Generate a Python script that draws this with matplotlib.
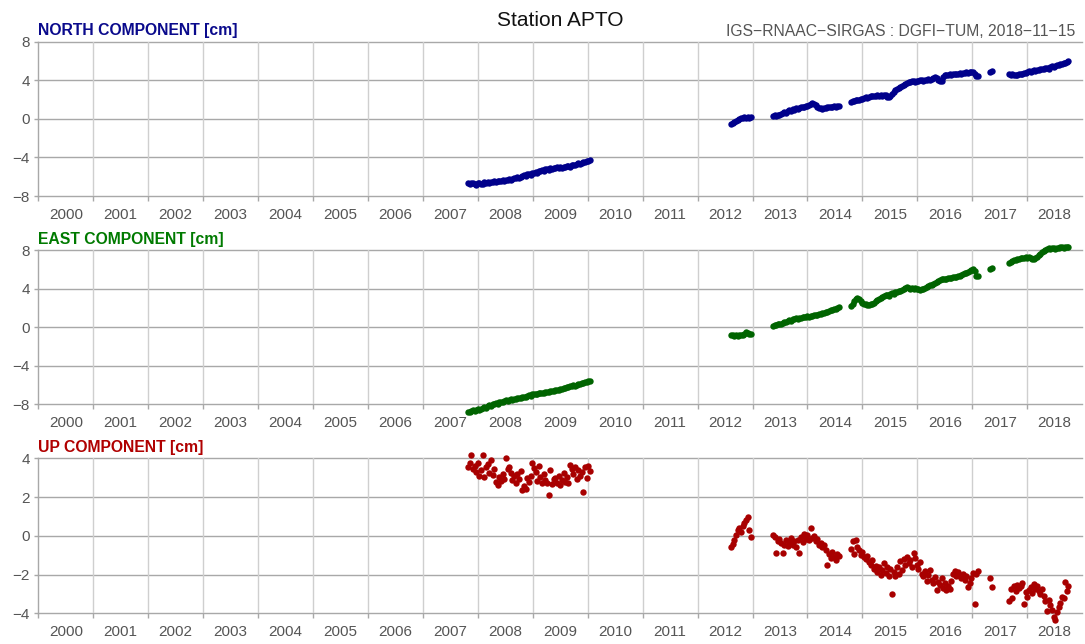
import matplotlib

matplotlib.use("Agg")
import matplotlib.pyplot as plt
from matplotlib.ticker import FixedLocator, FixedFormatter, NullFormatter

plt.rcParams["font.family"] = ["Liberation Sans", "DejaVu Sans"]

# weekly-ish solution epochs (decimal year), shared by the three components
epoch = [
    # 2007.82 - 2010.04
    2007.82, 2007.85, 2007.88, 2007.91, 2007.94, 2007.97, 2008.00, 2008.03, 2008.06, 2008.09,
    2008.12, 2008.15, 2008.18, 2008.21, 2008.24, 2008.27, 2008.30, 2008.33, 2008.36, 2008.39,
    2008.42, 2008.45, 2008.48, 2008.51, 2008.54, 2008.57, 2008.60, 2008.63, 2008.66, 2008.69,
    2008.72, 2008.75, 2008.78, 2008.81, 2008.84, 2008.87, 2008.90, 2008.93, 2008.96, 2008.99,
    2009.02, 2009.05, 2009.08, 2009.11, 2009.14, 2009.17, 2009.20, 2009.23, 2009.26, 2009.29,
    2009.32, 2009.35, 2009.38, 2009.41, 2009.44, 2009.47, 2009.50, 2009.53, 2009.56, 2009.59,
    2009.62, 2009.65, 2009.68, 2009.71, 2009.74, 2009.77, 2009.80, 2009.83, 2009.86, 2009.89,
    2009.92, 2009.95, 2009.98, 2010.01, 2010.04,
    # 2012.61 - 2012.97
    2012.61, 2012.64, 2012.67, 2012.70, 2012.73, 2012.76, 2012.79, 2012.82, 2012.85, 2012.88,
    2012.91, 2012.94, 2012.97,
    # 2013.37 - 2014.57
    2013.37, 2013.40, 2013.43, 2013.46, 2013.49, 2013.52, 2013.55, 2013.58, 2013.61, 2013.64,
    2013.67, 2013.70, 2013.73, 2013.76, 2013.79, 2013.82, 2013.85, 2013.88, 2013.91, 2013.94,
    2013.97, 2014.00, 2014.03, 2014.06, 2014.09, 2014.12, 2014.15, 2014.18, 2014.21, 2014.24,
    2014.27, 2014.30, 2014.33, 2014.36, 2014.39, 2014.42, 2014.45, 2014.48, 2014.51, 2014.54,
    2014.57,
    # 2014.79 - 2017.10
    2014.79, 2014.82, 2014.85, 2014.88, 2014.91, 2014.94, 2014.97, 2015.00, 2015.03, 2015.06,
    2015.09, 2015.12, 2015.15, 2015.18, 2015.21, 2015.24, 2015.27, 2015.30, 2015.33, 2015.36,
    2015.39, 2015.42, 2015.45, 2015.48, 2015.51, 2015.54, 2015.57, 2015.60, 2015.63, 2015.66,
    2015.69, 2015.72, 2015.75, 2015.78, 2015.81, 2015.84, 2015.87, 2015.90, 2015.93, 2015.96,
    2015.99, 2016.02, 2016.05, 2016.08, 2016.11, 2016.14, 2016.17, 2016.20, 2016.23, 2016.26,
    2016.29, 2016.32, 2016.35, 2016.38, 2016.41, 2016.44, 2016.47, 2016.50, 2016.53, 2016.56,
    2016.59, 2016.62, 2016.65, 2016.68, 2016.71, 2016.74, 2016.77, 2016.80, 2016.83, 2016.86,
    2016.89, 2016.92, 2016.95, 2016.98, 2017.01, 2017.04, 2017.07, 2017.10,
    # isolated
    2017.33, 2017.36,
    # 2017.67 - 2018.75
    2017.67, 2017.70, 2017.73, 2017.76, 2017.79, 2017.82, 2017.85, 2017.88, 2017.91, 2017.94,
    2017.97, 2018.00, 2018.03, 2018.06, 2018.09, 2018.12, 2018.15, 2018.18, 2018.21, 2018.24,
    2018.27, 2018.30, 2018.33, 2018.36, 2018.39, 2018.42, 2018.45, 2018.48, 2018.51, 2018.54,
    2018.57, 2018.60, 2018.63, 2018.66, 2018.69, 2018.72, 2018.75,
]

north = [
    -6.65, -6.78, -6.70, -6.62, -6.75, -6.82, -6.70, -6.66, -6.80, -6.72,
    -6.60, -6.68, -6.55, -6.62, -6.50, -6.58, -6.45, -6.52, -6.40, -6.47,
    -6.42, -6.35, -6.44, -6.30, -6.38, -6.25, -6.32, -6.20, -6.12, -6.18,
    -6.05, -6.10, -5.98, -5.92, -5.85, -5.90, -5.75, -5.70, -5.78, -5.62,
    -5.58, -5.50, -5.62, -5.40, -5.45, -5.32, -5.38, -5.25, -5.20, -5.28,
    -5.10, -5.18, -5.05, -5.12, -5.00, -5.08, -4.98, -5.05, -4.95, -5.02,
    -4.92, -4.85, -4.95, -4.80, -4.75, -4.82, -4.68, -4.62, -4.70, -4.55,
    -4.50, -4.45, -4.38, -4.32, -4.28,
    -0.50, -0.40, -0.32, -0.25, -0.15, -0.05, 0.05, 0.10, 0.15, 0.05,
    0.20, 0.12, 0.18,
    0.25, 0.35, 0.30, 0.45, 0.40, 0.55, 0.60, 0.70, 0.65, 0.80,
    0.90, 0.85, 1.00, 0.95, 1.10, 1.05, 1.15, 1.20, 1.25, 1.18,
    1.30, 1.35, 1.45, 1.55, 1.65, 1.58, 1.40, 1.25, 1.15, 1.10,
    1.05, 1.15, 1.10, 1.20, 1.25, 1.18, 1.22, 1.30, 1.25, 1.35,
    1.38,
    1.78, 1.85, 1.80, 1.92, 1.98, 1.95, 2.05, 2.10, 2.15, 2.22,
    2.20, 2.28, 2.32, 2.35, 2.42, 2.38, 2.45, 2.40, 2.48, 2.42,
    2.50, 2.45, 2.30, 2.25, 2.40, 2.55, 2.75, 2.95, 3.05, 3.20,
    3.30, 3.42, 3.55, 3.62, 3.70, 3.78, 3.82, 3.88, 3.92, 3.85,
    3.95, 3.90, 3.98, 4.00, 3.92, 4.05, 4.02, 4.10, 4.05, 4.12,
    4.25, 4.32, 4.20, 4.05, 3.90, 3.95, 4.30, 4.50, 4.55, 4.52,
    4.60, 4.58, 4.65, 4.62, 4.70, 4.68, 4.72, 4.65, 4.75, 4.78,
    4.82, 4.75, 4.85, 4.90, 4.88, 4.60, 4.45, 4.42,
    4.88, 4.92,
    4.62, 4.55, 4.68, 4.50, 4.58, 4.52, 4.60, 4.65, 4.70, 4.75,
    4.80, 4.85, 4.92, 4.88, 5.00, 5.05, 4.98, 5.10, 5.05, 5.15,
    5.20, 5.12, 5.25, 5.30, 5.22, 5.35, 5.45, 5.40, 5.50, 5.55,
    5.60, 5.65, 5.70, 5.75, 5.82, 5.88, 5.95,
]

east = [
    -8.85, -8.78, -8.70, -8.62, -8.68, -8.55, -8.50, -8.58, -8.45, -8.40,
    -8.30, -8.38, -8.20, -8.12, -8.18, -8.00, -7.95, -7.88, -7.92, -7.80,
    -7.72, -7.78, -7.65, -7.60, -7.68, -7.55, -7.50, -7.52, -7.45, -7.40,
    -7.38, -7.32, -7.35, -7.25, -7.20, -7.22, -7.12, -7.08, -7.10, -6.98,
    -6.95, -6.92, -6.98, -6.85, -6.88, -6.80, -6.78, -6.75, -6.70, -6.72,
    -6.62, -6.65, -6.58, -6.55, -6.50, -6.48, -6.42, -6.45, -6.35, -6.30,
    -6.25, -6.20, -6.15, -6.10, -6.05, -6.08, -5.98, -5.90, -5.85, -5.80,
    -5.75, -5.72, -5.65, -5.62, -5.58,
    -0.80, -0.85, -0.90, -0.82, -0.88, -0.85, -0.80, -0.78, -0.72, -0.55,
    -0.65, -0.70, -0.68,
    0.10, 0.18, 0.22, 0.28, 0.35, 0.30, 0.42, 0.50, 0.55, 0.62,
    0.72, 0.68, 0.80, 0.85, 0.92, 0.88, 1.00, 0.98, 1.05, 1.10,
    1.02, 1.12, 1.08, 1.18, 1.15, 1.22, 1.30, 1.25, 1.38, 1.35,
    1.42, 1.50, 1.55, 1.62, 1.70, 1.78, 1.75, 1.85, 1.92, 1.98,
    2.05,
    2.20, 2.45, 2.75, 2.95, 3.00, 2.92, 2.75, 2.55, 2.45, 2.40,
    2.32, 2.28, 2.35, 2.45, 2.55, 2.70, 2.78, 2.90, 3.05, 3.15,
    3.20, 3.30, 3.35, 3.28, 3.45, 3.50, 3.48, 3.60, 3.65, 3.72,
    3.80, 3.85, 3.92, 4.05, 4.12, 4.08, 4.00, 4.05, 3.95, 4.02,
    3.98, 3.92, 3.88, 3.95, 4.00, 4.05, 4.15, 4.25, 4.32, 4.40,
    4.50, 4.62, 4.70, 4.82, 4.90, 4.95, 4.98, 5.02, 5.00, 5.08,
    5.05, 5.12, 5.15, 5.20, 5.25, 5.30, 5.35, 5.42, 5.50, 5.58,
    5.65, 5.75, 5.85, 5.92, 5.98, 5.80, 5.35, 5.28,
    6.08, 6.14,
    6.65, 6.75, 6.85, 6.92, 7.00, 7.05, 7.10, 7.15, 7.20, 7.18,
    7.25, 7.22, 7.28, 7.20, 7.10, 7.05, 7.12, 7.30, 7.45, 7.60,
    7.75, 7.90, 8.05, 8.15, 8.25, 8.10, 8.18, 8.22, 8.15, 8.25,
    8.20, 8.28, 8.30, 8.25, 8.32, 8.35, 8.30,
]

up = [
    3.55, 3.75, 4.15, 3.45, 3.60, 3.30, 3.75, 3.10, 3.40, 4.15,
    3.05, 3.55, 3.70, 3.25, 3.90, 3.15, 3.45, 2.80, 2.60, 3.05,
    2.85, 3.20, 2.95, 4.00, 3.45, 3.55, 3.25, 2.90, 3.10, 2.75,
    3.20, 2.95, 3.35, 2.35, 2.55, 2.40, 3.00, 2.80, 3.10, 3.75,
    3.50, 3.30, 2.85, 3.60, 3.05, 2.70, 3.20, 2.90, 2.75, 2.10,
    3.40, 2.65, 2.95, 3.00, 2.75, 3.10, 2.60, 2.90, 3.25, 2.80,
    3.05, 2.70, 3.65, 3.45, 3.20, 3.55, 2.95, 3.40, 3.10, 3.30,
    2.25, 3.55, 3.00, 3.60, 3.35,
    -0.60, -0.40, -0.20, 0.05, 0.30, 0.40, 0.22, 0.50, 0.65, 0.82,
    0.96, 0.30, -0.05,
    0.05, -0.05, -0.90, -0.25, -0.15, -0.35, -0.90, -0.45, -0.20, -0.55,
    -0.30, -0.10, -0.45, -0.25, -0.60, -0.20, -0.90, -0.05, -0.30, 0.10,
    -0.15, 0.05, -0.20, 0.42, -0.10, 0.00, -0.25, -0.15, -0.45, -0.35,
    -0.60, -0.50, -0.75, -1.50, -0.95, -1.15, -0.85, -1.10, -1.25, -0.95,
    -1.05,
    -0.70, -0.25, -0.95, -0.20, -0.60, -0.75, -1.00, -0.85, -1.10, -1.20,
    -1.05, -1.35, -1.50, -1.25, -1.70, -1.55, -1.85, -1.60, -2.00, -1.75,
    -1.40, -1.90, -1.60, -2.05, -1.70, -2.98, -1.85, -2.10, -1.60, -1.95,
    -1.30, -1.75, -1.20, -1.50, -1.10, -1.40, -1.25, -1.60, -0.90, -1.15,
    -1.50, -1.70, -1.35, -1.95, -2.05, -1.80, -2.35, -2.00, -1.75, -2.30,
    -2.45, -2.15, -2.80, -2.40, -2.55, -2.20, -2.70, -2.45, -2.80, -2.60,
    -2.75, -2.35, -1.95, -1.80, -2.10, -1.85, -2.05, -2.20, -1.95, -2.30,
    -2.10, -2.65, -2.45, -2.20, -1.90, -3.50, -1.95, -1.80,
    -2.20, -2.62,
    -3.38, -2.75, -3.20, -2.60, -2.85, -2.55, -2.70, -2.60, -2.45, -3.50,
    -2.90, -3.15, -2.80, -2.65, -2.95, -2.50, -2.75, -2.60, -2.85, -3.00,
    -2.75, -3.10, -3.35, -3.90, -3.30, -3.55, -3.85, -4.20, -4.35, -3.95,
    -3.70, -3.45, -3.15, -3.20, -2.40, -2.85, -2.60,
]

assert len(epoch) == len(north) == len(east) == len(up)

years = list(range(2000, 2020))
year_labels = [str(y) for y in range(2000, 2019)]
nev_ticks = [-8, -4, 0, 4, 8]
up_ticks = [-4, -2, 0, 2, 4]

panels = [
    ("NORTH COMPONENT [cm]", north, "#00008b", "#0a0a8c", nev_ticks, 41.7, 196.0),
    ("EAST COMPONENT [cm]", east, "#006400", "#007a00", nev_ticks, 250.0, 404.3),
    ("UP COMPONENT [cm]", up, "#a80000", "#b00000", up_ticks, 458.3, 613.3),
]

W, H = 1085, 644
x0, x1 = 38.3, 1082.2
grey = "#555555"

fig = plt.figure(figsize=(W / 100, H / 100), dpi=100)

axes = []
for label, vals, dot_col, txt_col, yt, top, bot in panels:
    ax = fig.add_axes([x0 / W, 1 - bot / H, (x1 - x0) / W, (bot - top) / H])
    ax.set_xlim(2000, 2019)
    ax.set_ylim(yt[0], yt[-1])

    for yv in yt:
        ax.axhline(yv, color="#a8a8a8", lw=1.0, zorder=0, clip_on=False)
    for xv in years[1:-1]:
        ax.axvline(xv, color="#cfcfcf", lw=1.0, zorder=0)

    for s in ("top", "right", "bottom"):
        ax.spines[s].set_visible(False)
    ax.spines["left"].set_color("#a8a8a8")
    ax.spines["left"].set_linewidth(1.0)

    ax.xaxis.set_major_locator(FixedLocator(years[:-1]))
    ax.xaxis.set_major_formatter(NullFormatter())
    ax.xaxis.set_minor_locator(FixedLocator([y + 0.5 for y in years[:-1]]))
    ax.xaxis.set_minor_formatter(FixedFormatter(year_labels))
    ax.tick_params(axis="x", which="major", length=3.5, width=1.0, color="#a8a8a8")
    ax.tick_params(axis="x", which="minor", length=0, pad=8.5, labelsize=11, labelcolor=grey)
    ax.set_yticks(yt)
    ax.tick_params(axis="y", length=3, width=1.0, color="#a8a8a8", pad=3,
                   labelsize=11, labelcolor=grey)

    ax.plot(epoch, vals, "o", ms=4.6, mew=0, color=dot_col, clip_on=False, zorder=3)

    ax.annotate(label, xy=(0, 1), xycoords="axes fraction", xytext=(0, 4.6),
                textcoords="offset points", ha="left", va="baseline",
                fontsize=11.3, fontweight="bold", color=txt_col)
    axes.append(ax)

axes[0].annotate("Station APTO", xy=(0.5, 1), xycoords="axes fraction", xytext=(0, 11.3),
                 textcoords="offset points", ha="center", va="baseline",
                 fontsize=15, color="#111111")
fig.text(1075 / W, 1 - 35.5 / H, "IGS\u2212RNAAC\u2212SIRGAS : DGFI\u2212TUM, 2018\u221211\u221215",
         ha="right", va="baseline", fontsize=11.3, color=grey)

fig.savefig("out.png", dpi=100)
plt.close(fig)
